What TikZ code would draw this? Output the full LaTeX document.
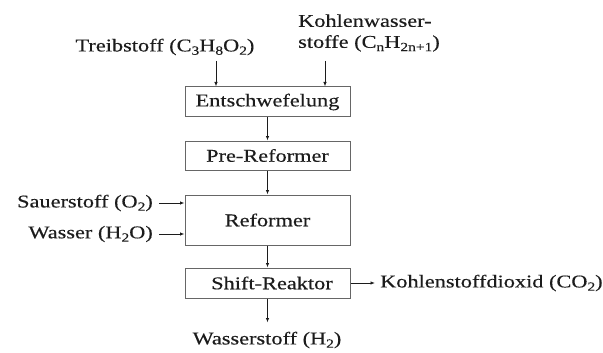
\documentclass[tikz,border=0pt]{standalone}
\usepackage{fontspec}
\setmainfont[FakeStretch=1.24, FakeBold=0.35]{Liberation Serif}
\usetikzlibrary{arrows.meta}
\newcommand\chsub[1]{\raisebox{-0.4ex}{\fontsize{12.5}{12.5}\selectfont#1}}
\definecolor{ink}{HTML}{1C1C1C}
\definecolor{frame}{HTML}{666666}
\tikzset{
  every node/.style={font=\fontsize{18}{21}\selectfont, text=ink, inner sep=0pt},
  stage/.style={draw=frame, line width=1pt, minimum width=165pt, anchor=center},
  flow/.style={draw=ink, line width=0.8pt, -{Latex[length=4.5pt,width=3.5pt]}},
}
\begin{document}
\begin{tikzpicture}[x=1pt,y=1pt]
  \useasboundingbox (0,0) rectangle (603,-353);

  % process chain
  \node[stage, minimum height=30pt] (ent)   at (267.5,-102)   {Entschwefelung};
  \node[stage, minimum height=29pt] (pre)   at (267.5,-155.5) {Pre-Reformer};
  \node[stage, minimum height=50pt] (ref)   at (267.5,-220)   {Reformer\hspace{12pt}};
  \node[stage, minimum height=30pt] (shift) at (267.5,-283)   {\hspace{9pt}Shift-Reaktor};

  % feed streams
  \node (treib) at (165,-47) {Treibstoff (C\chsub{3}H\chsub{8}O\chsub{2})};
  \node[anchor=west, align=left] (kw) at (298,-33)
    {Kohlenwasser-\\stoffe (C\chsub{n}H\chsub{2n+1})};
  \node[anchor=east] (sauer)  at (153,-203) {Sauerstoff (O\chsub{2})};
  \node[anchor=east] (wasser) at (153,-234) {Wasser (H\chsub{2}O)};

  % products
  \node[anchor=west] (co2) at (380,-283) {Kohlenstoffdioxid (CO\chsub{2})};
  \node (h2) at (267,-340) {Wasserstoff (H\chsub{2})};

  \coordinate (inA) at (216,-61);
  \coordinate (inB) at (325,-61);

  % connectors
  \draw[flow] (inA) -- (inA |- ent.north);
  \draw[flow] (inB) -- (inB |- ent.north);
  \draw[flow] (ent) -- (pre);
  \draw[flow] (pre) -- (ref);
  \draw[flow] (ref) -- (shift);
  \draw[flow, shorten <=6pt] (sauer.east) -- (sauer.east -| ref.west);
  \draw[flow, shorten <=6pt] (wasser.east) -- (wasser.east -| ref.west);
  \draw[flow, shorten >=5pt] (shift.east) -- (co2.west);
  \draw[flow] (shift.south) -- ++(0,-24);
\end{tikzpicture}
\end{document}
